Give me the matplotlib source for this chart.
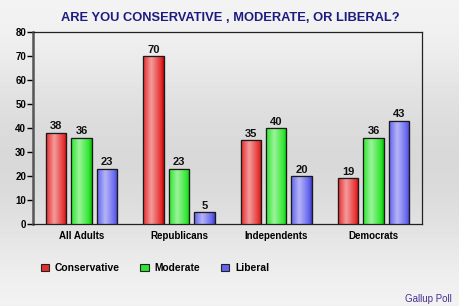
import matplotlib
matplotlib.use("Agg")
import matplotlib.pyplot as plt
import numpy as np

groups = ["All Adults", "Republicans", "Independents", "Democrats"]
series = ["Conservative", "Moderate", "Liberal"]
conservative = [38, 70, 35, 19]
moderate = [36, 23, 40, 36]
liberal = [23, 5, 20, 43]
yticks = [0, 10, 20, 30, 40, 50, 60, 70, 80]

colors = ["#e62e2e", "#2ee62e", "#6464ee"]
plt.rcParams["font.family"] = ["Liberation Sans", "DejaVu Sans"]

fig = plt.figure(figsize=(4.6, 3.06), dpi=100)
fig.patch.set_facecolor("#e6e6e6")

# soft brushed background
bg = fig.add_axes([0, 0, 1, 1], zorder=-10)
grad = np.linspace(0, 1, 306)[:, None] * np.ones((1, 10))
bg.imshow(0.90 + 0.05 * np.cos(grad * 6.0), cmap="gray", vmin=0, vmax=1,
          aspect="auto", extent=[0, 1, 0, 1])
bg.axis("off")

ax = fig.add_axes([0.0717, 0.268, 0.846, 0.627])
ax.patch.set_alpha(0)

x = np.arange(len(groups))
w = 0.21
off = 0.262
for i, (vals, c, name) in enumerate(zip([conservative, moderate, liberal], colors, series)):
    bars = ax.bar(x + (i - 1) * off, vals, w, color=c, edgecolor="#222222",
                  linewidth=0.8, label=name, zorder=3)
    for b, v in zip(bars, vals):
        # cylinder-like shading
        shade = np.concatenate([np.linspace(0.0, 0.55, 8), np.linspace(0.55, -0.15, 12)])[None, :]
        base = np.array(matplotlib.colors.to_rgb(c))
        img = np.clip(base[None, None, :] + shade[..., None] * (1 - base[None, None, :]) * 0.9
                      + np.minimum(shade, 0)[..., None] * base, 0, 1)
        im = ax.imshow(img, extent=[b.get_x(), b.get_x() + w, 0, v], aspect="auto", zorder=3.5)
        im.set_clip_path(b)
        ax.text(b.get_x() + w / 2, v + 0.6, str(v), ha="center", va="bottom",
                fontsize=8, fontweight="bold", color="#111111", zorder=5)
    # outline on top of the shading
    ax.bar(x + (i - 1) * off, vals, w, fill=False, edgecolor="#1a1a1a",
           linewidth=0.9, zorder=4)

ax.set_xlim(-0.5, 3.5)
ax.set_ylim(0, 80)
ax.set_yticks(yticks)
ax.set_xticks(x)
ax.set_xticklabels(groups, fontsize=7, fontweight="bold")
ax.tick_params(axis="y", labelsize=7, length=4, width=1, pad=1)
for lbl in ax.get_yticklabels():
    lbl.set_fontweight("bold")
ax.tick_params(axis="x", length=0, pad=5)
for s in ["top", "right", "bottom"]:
    ax.spines[s].set_color("#222222")
    ax.spines[s].set_linewidth(0.9)
ax.spines["left"].set_color("#555555")
ax.spines["left"].set_linewidth(1.8)

fig.text(0.5, 0.94, "ARE YOU CONSERVATIVE , MODERATE, OR LIBERAL?", ha="center",
         va="center", fontsize=9.3, fontweight="bold", color="#1c1c80")

leg = fig.legend(loc="center left", bbox_to_anchor=(0.068, 0.124), ncol=3, frameon=False,
                 fontsize=7.4, handlelength=0.8, handleheight=0.8, columnspacing=2.0,
                 handletextpad=0.6)
for t in leg.get_texts():
    t.set_fontweight("bold")
for h in leg.legend_handles:
    h.set_linewidth(0.8)

fig.text(0.982, 0.008, "Gallup Poll", ha="right", va="bottom", fontsize=7,
         color="#4a3090")

fig.savefig("out.png", dpi=100)
